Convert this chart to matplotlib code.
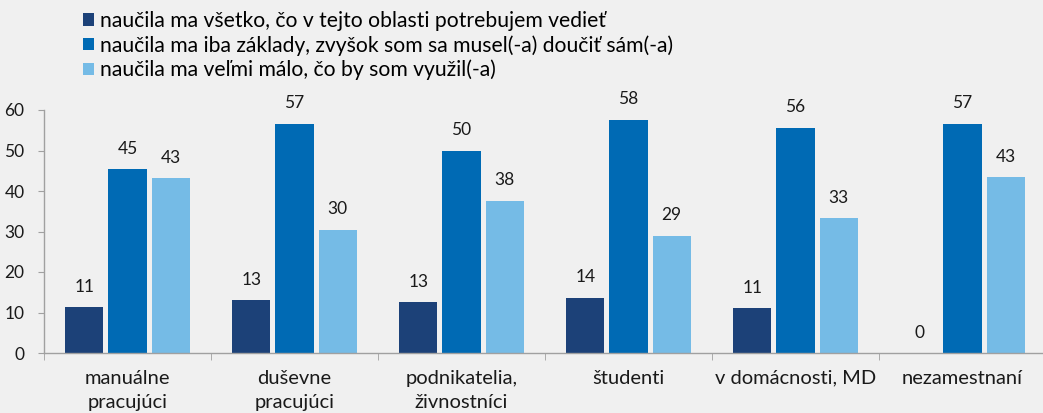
import matplotlib
matplotlib.use('Agg')
import numpy as np
import matplotlib.pyplot as plt
from matplotlib.patches import Patch

categories = ['manuálne\npracujúci', 'duševne\npracujúci', 'podnikatelia,\nživnostníci',
              'študenti', 'v domácnosti, MD', 'nezamestnaní']
series_names = ['naučila ma všetko, čo v tejto oblasti potrebujem vedieť',
                'naučila ma iba základy, zvyšok som sa musel(-a) doučiť sám(-a)',
                'naučila ma veľmi málo, čo by som využil(-a)']
vsetko = [11.3, 13.0, 12.5, 13.6, 11.1, 0]
zaklady = [45.4, 56.6, 50.0, 57.6, 55.6, 56.6]
malo = [43.2, 30.4, 37.6, 28.9, 33.3, 43.4]
labels_vsetko = [11, 13, 13, 14, 11, 0]
labels_zaklady = [45, 57, 50, 58, 56, 57]
labels_malo = [43, 30, 38, 29, 33, 43]

colors = ['#1c4178', '#006ab4', '#75bbe6']
bg = '#f0f0f0'

plt.rcParams['font.family'] = ['Lato', 'DejaVu Sans']

W, H = 1043, 413
fig = plt.figure(figsize=(W / 100, H / 100), dpi=100, facecolor=bg)
ax = fig.add_axes([44 / W, (H - 353) / H, 1002 / W, 243 / H], facecolor=bg)

x = np.arange(len(categories))
bw = 0.228
step = 0.258
data = [(vsetko, labels_vsetko), (zaklady, labels_zaklady), (malo, labels_malo)]
for i, (vals, labs) in enumerate(data):
    pos = x + (i - 1) * step
    ax.bar(pos, vals, width=bw, color=colors[i], edgecolor='none', zorder=2)
    for px, v, lab in zip(pos, vals, labs):
        ax.annotate(str(lab), (px, v), xytext=(0, 9), textcoords='offset points',
                    ha='center', va='bottom', fontsize=12.5, color='#1a1a1a')

ax.set_xlim(-0.5, len(categories) - 0.5)
ax.set_ylim(0, 60)
ax.set_yticks(range(0, 61, 10))
ax.set_xticks(x)
ax.set_xticklabels(categories, fontsize=14.5, color='#1a1a1a', linespacing=1.55)
ax.set_xticks(np.arange(len(categories) + 1) - 0.5, minor=True)
ax.tick_params(axis='x', which='major', length=0, pad=12)
ax.tick_params(axis='x', which='minor', length=5, color='#a0a0a0', direction='out')
ax.tick_params(axis='y', length=4, color='#a0a0a0', labelsize=12.5, labelcolor='#1a1a1a', pad=10)
for s in ['top', 'right']:
    ax.spines[s].set_visible(False)
for s in ['left', 'bottom']:
    ax.spines[s].set_color('#a0a0a0')
    ax.spines[s].set_linewidth(1)

handles = [Patch(facecolor=c, edgecolor='none') for c in colors]
fig.legend(handles, series_names, loc='upper left', bbox_to_anchor=(83 / W, 1 - 11 / H),
           frameon=False, fontsize=15.2, handlelength=0.5, handleheight=0.5,
           handletextpad=0.3, labelspacing=0.19, borderpad=0, borderaxespad=0)

fig.savefig('out.png', dpi=100, facecolor=bg)
